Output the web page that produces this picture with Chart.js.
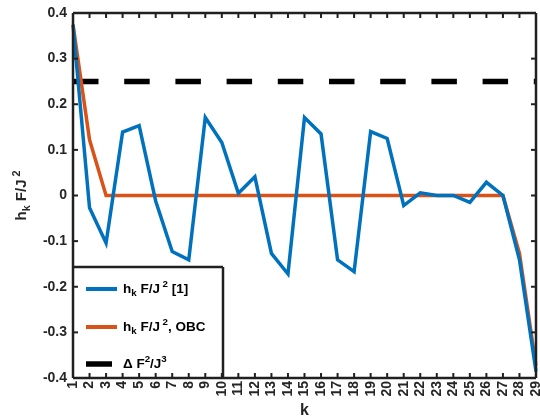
<!DOCTYPE html>
<html>
<head>
<meta charset="utf-8">
<script src="https://cdn.jsdelivr.net/npm/chart.js@4.4.1/dist/chart.umd.min.js"></script>
<style>
  html, body { margin: 0; padding: 0; background: #fff; }
  #wrap { position: relative; width: 540px; height: 418px; }
</style>
</head>
<body>
<div id="wrap"><canvas id="c" width="540" height="418"></canvas></div>
<script>
// data
const kLabels = ['1','2','3','4','5','6','7','8','9','10','11','12','13','14','15',
  '16','17','18','19','20','21','22','23','24','25','26','27','28','29'];
const hRef = [0.374, -0.027, -0.104, 0.139, 0.153, -0.012, -0.123, -0.141, 0.171, 0.116,
  0.005, 0.041, -0.127, -0.172, 0.171, 0.135, -0.141, -0.167, 0.140, 0.125,
  -0.022, 0.006, 0.000, 0.000, -0.015, 0.029, 0.000, -0.141, -0.386];
const hObc = [0.375, 0.122, 0, 0, 0, 0, 0, 0, 0, 0,
  0, 0, 0, 0, 0, 0, 0, 0, 0, 0,
  0, 0, 0, 0, 0, 0, 0, -0.127, -0.373];
const deltaLine = [0.25, 0.25, 0.25, 0.25, 0.25, 0.25, 0.25, 0.25, 0.25, 0.25,
  0.25, 0.25, 0.25, 0.25, 0.25, 0.25, 0.25, 0.25, 0.25, 0.25,
  0.25, 0.25, 0.25, 0.25, 0.25, 0.25, 0.25, 0.25, 0.25];
const yTicks = [-0.4, -0.3, -0.2, -0.1, 0, 0.1, 0.2, 0.3, 0.4];

const FONT = '"Liberation Sans", Arial, Helvetica, sans-serif';
const AXIS = '#262626';
const FRAME = '#202020';
const BLUE = '#0072BD';
const ORANGE = '#D95319';

// text with sub/superscripts, parts like {t:'k', s:'sub'}
function drawRich(ctx, x, y, parts, size) {
  let cx = x;
  for (const p of parts) {
    const fs = p.s ? size * 0.72 : size;
    ctx.font = 'bold ' + fs + 'px ' + FONT;
    const dy = p.s === 'sub' ? size * 0.34 : p.s === 'sup' ? -size * 0.36 : 0;
    ctx.fillText(p.t, cx, y + dy);
    cx += ctx.measureText(p.t).width;
  }
  return cx - x;
}
function richWidth(ctx, parts, size) {
  let w = 0;
  for (const p of parts) {
    ctx.font = 'bold ' + (p.s ? size * 0.72 : size) + 'px ' + FONT;
    w += ctx.measureText(p.t).width;
  }
  return w;
}

const hLabel = [{t: 'h'}, {t: 'k', s: 'sub'}, {t: ' F/J'}, {t: ' 2', s: 'sup'}];
const legendItems = [
  {color: BLUE, w: 4, len: 31, parts: hLabel.concat([{t: ' [1]'}])},
  {color: ORANGE, w: 4, len: 31, parts: hLabel.concat([{t: ', OBC'}])},
  {color: '#000', w: 5.5, len: 26, parts: [{t: '\u0394 F'}, {t: '2', s: 'sup'}, {t: '/J'}, {t: '3', s: 'sup'}]}
];

function seg(ctx, x1, y1, x2, y2) {
  ctx.beginPath();
  ctx.moveTo(x1, y1);
  ctx.lineTo(x2, y2);
  ctx.stroke();
}

const boxPlugin = {
  id: 'axesBox',
  afterDraw(chart) {
    const ctx = chart.ctx;
    const a = chart.chartArea;
    const xs = chart.scales.x, ys = chart.scales.y;
    ctx.save();
    ctx.setLineDash([]);

    ctx.fillStyle = AXIS;
    ctx.textBaseline = 'middle';

    // y title
    const ySize = 15;
    const yw = richWidth(ctx, hLabel, ySize);
    ctx.save();
    ctx.translate(22, (a.top + a.bottom) / 2);
    ctx.rotate(-Math.PI / 2);
    drawRich(ctx, -yw / 2, 0, hLabel, ySize);
    ctx.restore();

    // x title
    ctx.font = 'bold 16px ' + FONT;
    ctx.textAlign = 'center';
    ctx.fillText('k', (a.left + a.right) / 2, 411);
    ctx.textAlign = 'left';

    // legend box
    const bx = a.left, by = 267, bw = 150, bh = a.bottom - 267;
    ctx.fillStyle = '#fff';
    ctx.fillRect(bx, by, bw, bh);
    ctx.strokeStyle = FRAME;
    ctx.lineWidth = 2.5;
    seg(ctx, bx, by, bx + bw, by);
    seg(ctx, bx + bw, by, bx + bw, by + bh);
    const rows = [289, 327, 364];
    legendItems.forEach((it, i) => {
      ctx.strokeStyle = it.color;
      ctx.lineWidth = it.w;
      seg(ctx, bx + 13, rows[i], bx + 13 + it.len, rows[i]);
      ctx.fillStyle = '#000';
      drawRich(ctx, bx + 50, rows[i], it.parts, 13.5);
    });

    // axes box with inward ticks on all four sides, drawn last
    ctx.strokeStyle = FRAME;
    ctx.lineWidth = 2.5;
    seg(ctx, a.left, a.top, a.right, a.top);
    seg(ctx, a.left, a.bottom, a.right, a.bottom);
    seg(ctx, a.left, a.top, a.left, a.bottom);
    seg(ctx, a.right, a.top, a.right, a.bottom);
    ctx.lineWidth = 2;
    kLabels.forEach((k, i) => {
      const px = xs.getPixelForValue(i);
      seg(ctx, px, a.bottom, px, a.bottom - 5);
      seg(ctx, px, a.top, px, a.top + 5);
    });
    yTicks.forEach(v => {
      const py = ys.getPixelForValue(v);
      seg(ctx, a.left, py, a.left + 5, py);
      seg(ctx, a.right, py, a.right - 5, py);
    });
    ctx.restore();
  }
};

new Chart(document.getElementById('c'), {
  type: 'line',
  data: {
    labels: kLabels,
    datasets: [
      {label: 'h_k F/J^2 [1]', data: hRef, borderColor: BLUE, borderWidth: 3.5},
      {label: 'h_k F/J^2, OBC', data: hObc, borderColor: ORANGE, borderWidth: 3.5},
      {label: 'Delta F^2/J^3', data: deltaLine, borderColor: '#000', borderWidth: 5.5,
        borderDash: [25.5, 25.7], borderCapStyle: 'butt'}
    ]
  },
  options: {
    responsive: false,
    animation: false,
    devicePixelRatio: 1,
    elements: {point: {radius: 0}, line: {tension: 0}},
    layout: {padding: {top: 13, right: 4, left: 0, bottom: 0}},
    plugins: {legend: {display: false}, tooltip: {enabled: false}},
    scales: {
      x: {
        grid: {display: false, drawTicks: false, tickLength: 0},
        border: {display: false},
        ticks: {
          autoSkip: false, minRotation: 90, maxRotation: 90, padding: 3,
          color: AXIS, font: {family: FONT, size: 14, weight: 'bold'}
        },
        afterFit(s) { s.height = 40; s.paddingLeft = 0; s.paddingRight = 0; }
      },
      y: {
        min: -0.4, max: 0.4,
        grid: {display: false, drawTicks: false, tickLength: 0},
        border: {display: false},
        ticks: {
          stepSize: 0.1, padding: 6,
          color: AXIS, font: {family: FONT, size: 14, weight: 'bold'}
        },
        afterFit(s) { s.width = 73; s.paddingTop = 0; s.paddingBottom = 0; }
      }
    }
  },
  plugins: [boxPlugin]
});
</script>
</body>
</html>
